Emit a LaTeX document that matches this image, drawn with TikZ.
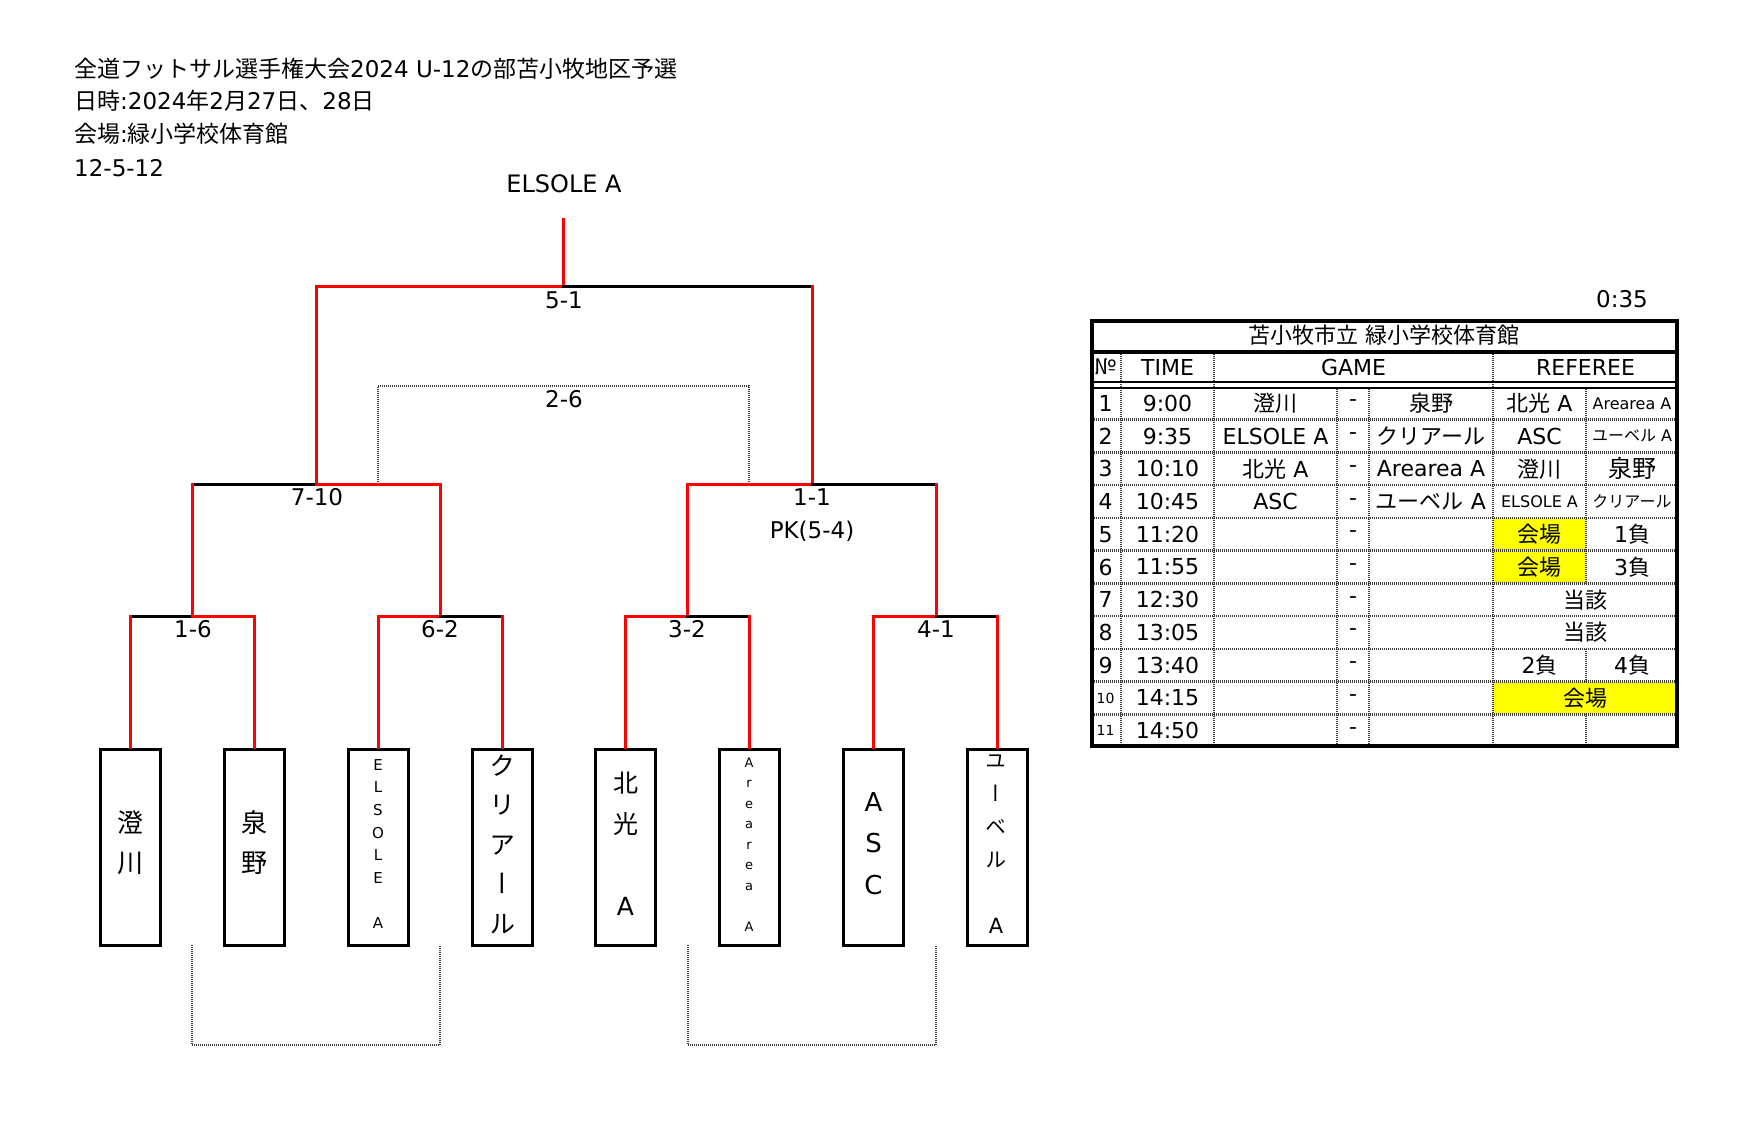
\documentclass[tikz,border=0pt]{standalone}
\usepackage{fontspec}
\setmainfont{DejaVu Sans}
\newfontfamily\latfont{DejaVu Sans}
\newfontfamily\cjkA{Noto Sans CJK JP}
\newfontfamily\cjkV{Noto Sans CJK JP}[RawFeature=+vert]
\let\cjkfont\cjkA
\newcommand\usevertcjk{\let\cjkfont\cjkV}
\XeTeXinterchartokenstate=1
\newXeTeXintercharclass\mycjkclass
\newcount\mycnt
\mycnt="2E80
\loop
  \XeTeXcharclass\mycnt=\mycjkclass
  \advance\mycnt by 1
\ifnum\mycnt<"A000 \repeat
\mycnt="FF00
\loop
  \XeTeXcharclass\mycnt=\mycjkclass
  \advance\mycnt by 1
\ifnum\mycnt<"FFF0 \repeat
\XeTeXcharclass"2116=\mycjkclass
\XeTeXinterchartoks 0 \mycjkclass={\cjkfont}
\XeTeXinterchartoks 4095 \mycjkclass={\cjkfont}
\XeTeXinterchartoks \mycjkclass 0={\latfont}
\XeTeXinterchartoks \mycjkclass 4095={\latfont}
\definecolor{dotgray}{RGB}{60,60,60}
\definecolor{hlyellow}{RGB}{255,255,0}
\begin{document}
\begin{tikzpicture}[x=1pt,y=-1pt,
  rl/.style={draw=red,line width=3pt,line cap=rect},
  bl/.style={draw=black,line width=3pt,line cap=rect},
  dl/.style={draw=dotgray,line width=2.5pt,dash pattern=on 1pt off 1pt},
  team/.style={draw=black,line width=3.5pt,minimum width=60,minimum height=196,inner sep=0pt},
  vt/.style={align=center,inner sep=0pt},
  lab/.style={font=\fontsize{23}{27}\selectfont,inner sep=0pt},
  hd/.style={font=\fontsize{23}{30}\selectfont,inner sep=0pt,anchor=west},
  tc/.style={font=\fontsize{22}{26}\selectfont,inner sep=0pt},
  ts/.style={font=\fontsize{16}{20}\selectfont,inner sep=0pt},
  tn/.style={font=\fontsize{14}{18}\selectfont,inner sep=0pt},
]
\useasboundingbox (0,0) rectangle (1741,1122);

% ---------- heading ----------
\node[hd] (title1) at (74,69) {全道フットサル選手権大会2024 U-12の部苫小牧地区予選};
\node[hd] (title2) at (74,101) {日時:2024年2月27日、28日};
\node[hd] (title3) at (74,134) {会場:緑小学校体育館};
\node[hd] (title4) at (74,168) {12-5-12};

% ---------- bracket coordinates ----------
\coordinate (champ) at (563.5,219);
\coordinate (f) at (563.5,286);
\coordinate (fl) at (316.5,286);
\coordinate (fr) at (812,286);
\coordinate (slm) at (316.5,484);
\coordinate (sll) at (192,484);
\coordinate (slr) at (440,484);
\coordinate (srm) at (812,484);
\coordinate (srl) at (687,484);
\coordinate (srr) at (936,484);
\coordinate (q1m) at (192,616);
\coordinate (q1l) at (130.5,616);
\coordinate (q1r) at (254.5,616);
\coordinate (q2m) at (440,616);
\coordinate (q2l) at (378.5,616);
\coordinate (q2r) at (502.5,616);
\coordinate (q3m) at (687,616);
\coordinate (q3l) at (625.5,616);
\coordinate (q3r) at (749.5,616);
\coordinate (q4m) at (936,616);
\coordinate (q4l) at (873.5,616);
\coordinate (q4r) at (997.5,616);
\coordinate (d26l) at (378,484);
\coordinate (d26r) at (749,484);
\coordinate (d26t) at (564,386);
\coordinate (c1l) at (192,945);
\coordinate (c1r) at (440,945);
\coordinate (c2l) at (688,945);
\coordinate (c2r) at (936,945);

% ---------- team boxes ----------
\node[team] (b1) at (130.5,847.5) {};
\node[team] (b2) at (254.5,847.5) {};
\node[team] (b3) at (378.5,847.5) {};
\node[team] (b4) at (502.5,847.5) {};
\node[team] (b5) at (625.5,847.5) {};
\node[team] (b6) at (749.5,847.5) {};
\node[team] (b7) at (873.5,847.5) {};
\node[team] (b8) at (997.5,847.5) {};

% ---------- dotted brackets ----------
\draw[dl] (d26l) -- (d26l |- d26t) -- (d26r |- d26t) -- (d26r);
\draw[dl] (c1l) -- ++(0,100) -| (c1r);
\draw[dl] (c2l) -- ++(0,100) -| (c2r);

% ---------- bracket lines ----------
\draw[rl] (champ) -- (f);
\draw[rl] (fl) -- (f);
\draw[bl] (f) -- (fr);
\draw[rl] (fl) -- (slm);
\draw[rl] (fr) -- (srm);
\draw[bl] (sll) -- (slm);
\draw[rl] (slm) -- (slr);
\draw[rl] (srl) -- (srm);
\draw[bl] (srm) -- (srr);
\draw[rl] (sll) -- (q1m);
\draw[rl] (slr) -- (q2m);
\draw[rl] (srl) -- (q3m);
\draw[rl] (srr) -- (q4m);
\draw[bl] (q1l) -- (q1m);
\draw[rl] (q1m) -- (q1r);
\draw[rl] (q2l) -- (q2m);
\draw[bl] (q2m) -- (q2r);
\draw[rl] (q3l) -- (q3m);
\draw[bl] (q3m) -- (q3r);
\draw[rl] (q4l) -- (q4m);
\draw[bl] (q4m) -- (q4r);
\draw[rl] (q1l) -- (b1.north);
\draw[rl] (q1r) -- (b2.north);
\draw[rl] (q2l) -- (b3.north);
\draw[rl] (q2r) -- (b4.north);
\draw[rl] (q3l) -- (b5.north);
\draw[rl] (q3r) -- (b6.north);
\draw[rl] (q4l) -- (b7.north);
\draw[rl] (q4r) -- (b8.north);

% ---------- bracket labels ----------
\node[font=\fontsize{24}{28}\selectfont,inner sep=0pt] (winner) at (564,184) {ELSOLE A};
\node[lab] (s51) at (564,300) {5-1};
\node[lab] (s26) at (564,399) {2-6};
\node[lab] (s710) at (317,497) {7-10};
\node[lab] (s11) at (812,497) {1-1};
\node[lab] (spk) at (812,531) {PK(5-4)};
\node[lab] (s16) at (193,629) {1-6};
\node[lab] (s62) at (440,629) {6-2};
\node[lab] (s32) at (687,629) {3-2};
\node[lab] (s41) at (936,629) {4-1};

% ---------- team names (vertical) ----------
\node[vt,font={\usevertcjk\fontsize{26}{40}\selectfont}] (n1) at (130.5,843) {澄\\川};
\node[vt,font={\usevertcjk\fontsize{26}{40}\selectfont}] (n2) at (254.5,843) {泉\\野};
\node[vt,font={\usevertcjk\fontsize{15}{22.6}\selectfont}] (n3) at (378,844) {E\\L\\S\\O\\L\\E\\[22.6pt]A};
\node[vt,font={\usevertcjk\fontsize{26}{39.5}\selectfont}] (n4) at (502.5,844) {ク\\リ\\ア\\ー\\ル};
\node[vt,font={\usevertcjk\fontsize{25}{41}\selectfont}] (n5) at (625.5,843.5) {北\\光\\[41pt]A};
\node[vt,font={\usevertcjk\fontsize{13}{20.5}\selectfont}] (n6) at (749,844.5) {A\\r\\e\\a\\r\\e\\a\\[20.5pt]A};
\node[vt,font={\usevertcjk\fontsize{26}{41.5}\selectfont}] (n7) at (873.5,843.5) {A\\S\\C};
\node[vt,font={\usevertcjk\fontsize{21}{33}\selectfont}] (n8) at (996,844.5) {ユ\\ー\\ベ\\ル\\[33pt]A};

% ---------- schedule table ----------
\node[font=\fontsize{23}{28}\selectfont,inner sep=0pt] (dur) at (1622,299) {0:35};
\fill[hlyellow] (1493,517.9) rectangle (1586,550.7);
\fill[hlyellow] (1493,550.7) rectangle (1586,583.4);
\fill[hlyellow] (1493,681.6) rectangle (1678,714.3);
\foreach \k in {1,...,10} \draw[dl] (1090,{387+32.73*\k}) -- (1678,{387+32.73*\k});
\foreach \xx in {1121,1214,1493} \draw[dl] (\xx,352) -- (\xx,747);
\foreach \xx in {1337,1369} \draw[dl] (\xx,387) -- (\xx,747);
\draw[dl] (1586,387) -- (1586,583.4);
\draw[dl] (1586,648.8) -- (1586,681.6);
\draw[dl] (1586,714.3) -- (1586,747);
\draw[line width=3.5pt] (1090,352) -- (1678,352);
\draw[line width=2.5pt] (1090,382) -- (1678,382);
\draw[line width=2pt] (1090,387.5) -- (1678,387.5);
\draw[line width=4pt] (1092,321) rectangle (1677,746);

\node[tc] (venue) at (1384,335.5) {苫小牧市立 緑小学校体育館};
\node[tc] (hno) at (1105.5,367) {№};
\node[tc] (htime) at (1167.5,367) {TIME};
\node[tc] (hgame) at (1353.5,367) {GAME};
\node[tc] (href) at (1585.5,367) {REFEREE};

\foreach \i/\t in {1/9:00,2/9:35,3/10:10,4/10:45,5/11:20,6/11:55,7/12:30,8/13:05,9/13:40,10/14:15,11/14:50}{
  \node[tc] (time\i) at (1167.5,{387+32.73*(\i-0.5)}) {\t};
  \node[tc] (dash\i) at (1353,{387+32.73*(\i-0.5)}) {-};
}
\foreach \i in {1,...,9}{
  \node[tc] (no\i) at (1105.5,{387+32.73*(\i-0.5)}) {\i};
}
\node[tn] (no10) at (1105.5,697.9) {10};
\node[tn] (no11) at (1105.5,730.6) {11};

% row 1
\node[tc] (r1a) at (1275.5,403.4) {澄川};
\node[tc] (r1b) at (1431,403.4) {泉野};
\node[tc] (r1c) at (1539.5,403.4) {北光 A};
\node[ts] (r1d) at (1632,403.4) {Arearea A};
% row 2
\node[tc] (r2a) at (1275.5,436.1) {ELSOLE A};
\node[tc] (r2b) at (1431,436.1) {クリアール};
\node[tc] (r2c) at (1539.5,436.1) {ASC};
\node[ts] (r2d) at (1632,436.1) {ユーベル A};
% row 3
\node[tc] (r3a) at (1275.5,468.8) {北光 A};
\node[tc] (r3b) at (1431,468.8) {Arearea A};
\node[tc] (r3c) at (1539.5,468.8) {澄川};
\node[tc,font=\fontsize{24}{28}\selectfont] (r3d) at (1632,468.8) {泉野};
% row 4
\node[tc] (r4a) at (1275.5,501.6) {ASC};
\node[tc] (r4b) at (1431,501.6) {ユーベル A};
\node[ts] (r4c) at (1539.5,501.6) {ELSOLE A};
\node[ts] (r4d) at (1632,501.6) {クリアール};
% rows 5-10 referees
\node[tc] (r5c) at (1539.5,534.3) {会場};
\node[tc] (r5d) at (1632,534.3) {1負};
\node[tc] (r6c) at (1539.5,567.0) {会場};
\node[tc] (r6d) at (1632,567.0) {3負};
\node[tc] (r7c) at (1585.5,599.7) {当該};
\node[tc] (r8c) at (1585.5,632.5) {当該};
\node[tc] (r9c) at (1539.5,665.2) {2負};
\node[tc] (r9d) at (1632,665.2) {4負};
\node[tc] (r10c) at (1585.5,697.9) {会場};
\end{tikzpicture}
\end{document}
